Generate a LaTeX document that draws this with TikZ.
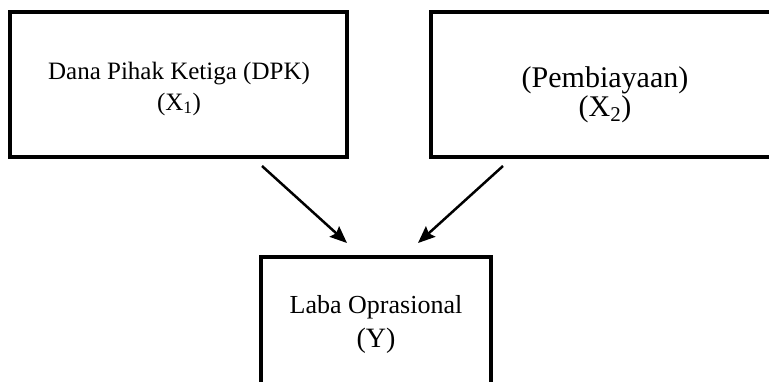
\documentclass[tikz,border=0pt]{standalone}
\usepackage{fontspec}
\setmainfont{Liberation Serif}
\usetikzlibrary{arrows.meta}
\begin{document}
\begin{tikzpicture}[x=1pt,y=-1pt,
  box/.style={draw,line width=3.2pt,inner sep=0pt,outer sep=0pt},
  lbl/.style={anchor=base,inner sep=0pt},
  link/.style={line width=2.5pt,-{Stealth[length=17pt,width=14pt,inset=2.5pt]}}]
\useasboundingbox (0,0) rectangle (769,381);
\clip (0,0) rectangle (769,381);
\node[box,minimum width=337pt,minimum height=145pt] (dpk) at (178.5,84.5) {};
\node[box,minimum width=369pt,minimum height=145pt] (pemb) at (615.5,84.5) {};
\node[box,minimum width=230pt,minimum height=163pt] (laba) at (376,338.5) {};
\node[lbl,font=\fontsize{25}{30}\selectfont] (dpkA) at (179,79) {Dana Pihak Ketiga (DPK)};
\node[lbl,font=\fontsize{25}{30}\selectfont] (dpkB) at (179,110) {(X\textsubscript{1})};
\node[lbl,font=\fontsize{30}{36}\selectfont] (pembA) at (605,87) {(Pembiayaan)};
\node[lbl,font=\fontsize{30}{36}\selectfont] (pembB) at (605,116) {(X\textsubscript{2})};
\node[lbl,font=\fontsize{26}{31}\selectfont] (labaA) at (376,313) {Laba Oprasional};
\node[lbl,font=\fontsize{28}{33}\selectfont] (labaB) at (376,347) {(Y)};
\coordinate (s1) at (262,166);
\coordinate (e1) at (347,243);
\coordinate (s2) at (503,166);
\coordinate (e2) at (418,243);
\draw[link] (s1) -- (e1);
\draw[link] (s2) -- (e2);
\end{tikzpicture}
\end{document}
